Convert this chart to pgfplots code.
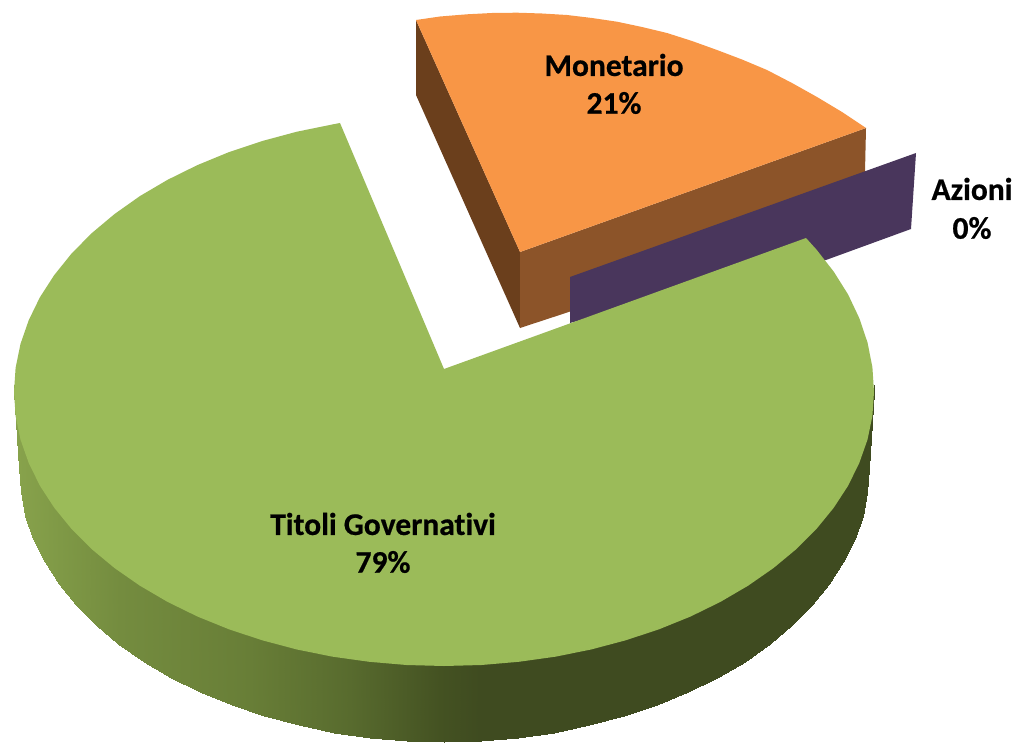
\documentclass[border=0pt]{standalone}
\usepackage{pgfplots}
\pgfplotsset{compat=1.18}
\usepackage{fontspec}
\setmainfont[Ligatures=NoCommon, BoldFeatures={FakeBold=0.6}]{Carlito}

\definecolor{topgreen}{RGB}{155,187,89}
\definecolor{toporange}{RGB}{248,150,70}
\definecolor{leftbrown}{RGB}{107,63,28}
\definecolor{frontbrown}{RGB}{140,84,41}
\definecolor{purpleface}{RGB}{73,54,92}

\pgfplotsset{
  colormap={greenside}{
    rgb255(0.14cm)=(136,163,76)
    rgb255(0.60cm)=(127,153,70)
    rgb255(1.20cm)=(116,140,63)
    rgb255(2.50cm)=(104,126,55)
    rgb255(3.50cm)=(88,107,46)
    rgb255(4.40cm)=(68,82,34)
    rgb255(4.80cm)=(63,75,32)
    rgb255(8.75cm)=(63,75,32)
  }
}

\begin{document}
\begin{tikzpicture}
  \begin{axis}[
    scale only axis,
    width=1016pt, height=743pt,
    xmin=0, xmax=1016, ymin=0, ymax=743,
    y dir=reverse,
    axis lines=none,
    clip=true,
    colormap name=greenside,
    point meta min=14, point meta max=875,
    nodes={font=\fontsize{31.5}{38}\selectfont\bfseries, text=black, inner sep=0pt}
    ]
    % tiene la pagina grande come il grafico
    \path (axis cs:0,0) (axis cs:1016,743);

    % Monetario: facce laterali
    \addplot[fill=leftbrown, draw=none] coordinates {
      (416,20) (520,252) (520,328) (416,95)
    };
    \addplot[fill=frontbrown, draw=none] coordinates {
      (520,252) (866,128) (864,215) (520,328)
    };
    % Monetario: faccia superiore
    \addplot[fill=toporange, draw=none] coordinates {
      (416,20) (440,16.5) (467,14.3) (492,13) (517,12.7) (542,13.5) (567,15)
      (592,18) (617,21.7) (642,27) (667,33) (692,41) (717,50) (742,59.5)
      (767,70) (792,83) (817,97) (842,112) (866,128) (520,252)
    };

    % Azioni
    \addplot[fill=purpleface, draw=none] coordinates {
      (570,277) (916,153) (911,229) (826,260) (805,260) (570,323)
    };

    % Titoli Governativi: bordo con sfumatura
    \addplot[surf, shader=interp, mesh/rows=2, mesh/ordering=y varies, point meta=x] table {
      x y
      14 385
      14 392
      15 392
      19 468
      15.6 411
      20.6 492
      20.5 435
      25.5 516
      28.7 458
      33.5 539
      39.9 481
      44.6 562
      54.3 503
      58.8 584
      71.6 524
      75.9 605
      91.8 544
      95.9 625
      114.6 563
      118.4 644
      139.9 581
      143.5 662
      167.6 597
      170.8 678
      197.4 612
      200.2 692
      229 624
      231.5 705
      262.3 635
      264.4 716
      296.9 645
      298.6 725
      332.7 652
      334 733
      369.3 657
      370.2 738
      406.5 660
      407 741
      444 661
      444 742
      481.5 660
      481 741
      518.7 657
      517.8 738
      555.3 652
      554 733
      591.1 645
      589.4 725
      625.7 635
      623.6 716
      659 624
      656.5 705
      690.6 612
      687.8 692
      720.4 597
      717.2 678
      748.1 581
      744.5 662
      773.4 563
      769.6 644
      796.2 544
      792.1 625
      816.4 524
      812.1 605
      833.7 503
      829.2 584
      848.1 481
      843.4 562
      859.3 458
      854.5 539
      867.5 435
      862.5 516
      872.4 411
      867.4 492
      873 392
      869 468
      874 385
      874 392
    };

    % Titoli Governativi: faccia superiore
    \addplot[fill=topgreen, draw=none] coordinates {
      (340,123) (332.7,124.4) (296.9,131.7) (262.3,141) (229,152.1) (197.4,165.1)
      (167.6,179.8) (139.9,196.1) (114.6,214) (91.8,233.1) (71.6,253.5) (54.3,275)
      (39.9,297.3) (28.7,320.3) (20.5,343.9) (15.6,367.9) (14,392)
      (15.6,415.9) (20.5,439.6) (28.7,462.9) (39.9,485.7) (54.3,507.8) (71.6,529)
      (91.8,549.2) (114.6,568.1) (139.9,585.7) (167.6,601.9) (197.4,616.5) (229,629.3)
      (262.3,640.3) (296.9,649.5) (332.7,656.7) (369.3,661.8) (406.5,665) (444,666)
      (481.5,665) (518.7,661.8) (555.3,656.7) (591.1,649.5) (625.7,640.3) (659,629.3)
      (690.6,616.5) (720.4,601.9) (748.1,585.7) (773.4,568.1) (796.2,549.2) (816.4,529)
      (833.7,507.8) (848.1,485.7) (859.3,462.9) (867.5,439.6) (872.4,415.9) (874,392)
      (872.4,367.2) (867.5,342.5) (859.3,318.2) (848.1,294.5) (833.7,271.6) (816.4,249.5)
      (806,238) (444,369)
    };

    \node at (axis cs:614,65) {Monetario};
    \node at (axis cs:614,103) {21\%};
    \node at (axis cs:972,189) {Azioni};
    \node at (axis cs:972,228) {0\%};
    \node at (axis cs:383,524) {Titoli Governativi};
    \node at (axis cs:383,562) {79\%};
  \end{axis}
\end{tikzpicture}
\end{document}
